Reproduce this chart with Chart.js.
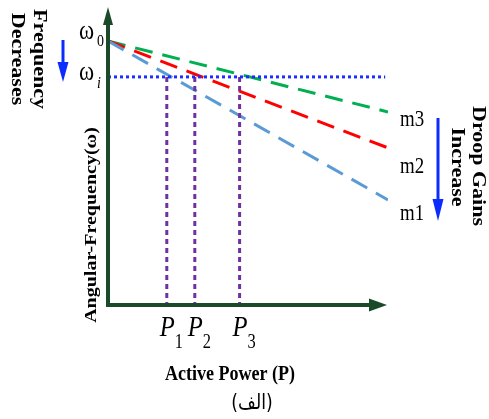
<!doctype html>
<html lang="en">
  <head>
    <meta charset="UTF-8" />
    <title>Droop Characteristic</title>
    <script src="https://cdn.jsdelivr.net/npm/chart.js"></script>
    <style>
      body,
      html {
        margin: 0;
        padding: 0;
        background: #ffffff;
      }
      #droopChart {
        display: block;
      }
    </style>
  </head>
  <body>
    <canvas id="droopChart" width="489" height="419"></canvas>
    <script>
      // Diagram values (normalised units)
      const powerRange = [0, 1];
      const freqRange = [0, 1];
      const omega0 = 0.889;
      const omegaI = 0.768;
      const omegaLineEnd = 0.99;
      const droopNames = ["m1", "m2", "m3"];
      const droopEndValues = [0.354, 0.529, 0.65]; // omega at P = 1
      const droopColors = ["#5b9bd5", "#ff0000", "#00b050"];
      const pLabels = ["1", "2", "3"];
      const pValues = [0.21, 0.31, 0.47];

      const axisColor = "#1b4a2b";
      const squeeze = 0.82; // the original artwork is a bit narrow

      function drawText(ctx, text, x, y, font, align, base, angle) {
        ctx.save();
        ctx.translate(x, y);
        ctx.scale(squeeze, 1);
        ctx.rotate(angle || 0);
        ctx.font = font;
        ctx.textAlign = align;
        ctx.textBaseline = base;
        ctx.fillStyle = "#000000";
        ctx.fillText(text, 0, 0);
        ctx.restore();
      }

      function arrow(ctx, x1, y1, x2, y2, color, width, headLen, headHalf) {
        const ang = Math.atan2(y2 - y1, x2 - x1);
        const bx = x2 - Math.cos(ang) * headLen;
        const by = y2 - Math.sin(ang) * headLen;
        ctx.save();
        ctx.strokeStyle = color;
        ctx.fillStyle = color;
        ctx.lineWidth = width;
        ctx.beginPath();
        ctx.moveTo(x1, y1);
        ctx.lineTo(bx + Math.cos(ang) * 2, by + Math.sin(ang) * 2);
        ctx.stroke();
        ctx.beginPath();
        ctx.moveTo(x2, y2);
        ctx.lineTo(bx - Math.sin(ang) * headHalf, by + Math.cos(ang) * headHalf);
        ctx.lineTo(bx + Math.sin(ang) * headHalf, by - Math.cos(ang) * headHalf);
        ctx.closePath();
        ctx.fill();
        ctx.restore();
      }

      // axes, arrows and all the labels
      const diagramPlugin = {
        id: "diagram",
        afterDatasetsDraw(chart) {
          const ctx = chart.ctx;
          const xs = chart.scales.x;
          const ys = chart.scales.y;
          const x0 = xs.getPixelForValue(powerRange[0]);
          const y0 = ys.getPixelForValue(freqRange[0]);

          // axes
          arrow(ctx, x0, y0 + 2, x0, 7, axisColor, 4, 18, 5);
          arrow(ctx, x0 - 2, y0, 387, y0, axisColor, 4, 18, 6.5);

          // omega labels
          const yw0 = ys.getPixelForValue(omega0);
          const ywi = ys.getPixelForValue(omegaI);
          drawText(ctx, "\u03c9", 79, yw0 - 2, "28px 'Liberation Serif'", "left", "alphabetic");
          drawText(ctx, "0", 97, yw0 + 5, "17px 'Liberation Serif'", "left", "alphabetic");
          drawText(ctx, "\u03c9", 79, ywi + 3, "28px 'Liberation Serif'", "left", "alphabetic");
          drawText(ctx, "i", 97, ywi + 11, "italic 17px 'Liberation Serif'", "left", "alphabetic");

          // P labels
          pValues.forEach((p, i) => {
            const px = xs.getPixelForValue(p);
            drawText(ctx, "P", px - 7, 336, "italic 30px 'Liberation Serif'", "left", "alphabetic");
            drawText(ctx, pLabels[i], px + 8, 348, "20px 'Liberation Serif'", "left", "alphabetic");
          });

          // droop names
          droopNames.forEach((name, i) => {
            const ly = ys.getPixelForValue(droopEndValues[i]);
            drawText(ctx, name, 400, ly + [20, 25, 14][i], "23px 'Liberation Serif'", "left", "alphabetic");
          });

          // axis titles
          drawText(ctx, "Active Power (P)", 230, 380, "bold 22px 'Liberation Serif'", "center", "alphabetic");
          drawText(ctx, "(\u0627\u0644\u0641)", 252, 404, "21px 'DejaVu Sans'", "center", "middle");
          drawText(ctx, "Angular-Frequency(\u03c9)", 96, 225, "bold 20px 'Liberation Serif'", "center", "alphabetic", -Math.PI / 2);

          // side notes
          drawText(ctx, "Frequency", 33.5, 59, "bold 22px 'Liberation Serif'", "center", "alphabetic", Math.PI / 2);
          drawText(ctx, "Decreases", 12, 59, "bold 22px 'Liberation Serif'", "center", "alphabetic", Math.PI / 2);
          drawText(ctx, "Droop Gains", 473, 166, "bold 22px 'Liberation Serif'", "center", "alphabetic", Math.PI / 2);
          drawText(ctx, "Increase", 452, 167, "bold 22px 'Liberation Serif'", "center", "alphabetic", Math.PI / 2);

          arrow(ctx, 63, 40, 63, 82, "#0a2cff", 3, 20, 5.5);
          arrow(ctx, 438, 118, 438, 221, "#0a2cff", 3, 22, 5.5);
        },
      };

      const datasets = [];
      // omega_i reference line
      datasets.push({
        data: [
          { x: powerRange[0], y: omegaI },
          { x: omegaLineEnd, y: omegaI },
        ],
        borderColor: "#1a2fff",
        borderWidth: 3,
        borderDash: [3, 3],
      });
      // power projections
      pValues.forEach((p) => {
        datasets.push({
          data: [
            { x: p, y: omegaI },
            { x: p, y: freqRange[0] },
          ],
          borderColor: "#7030a0",
          borderWidth: 3,
          borderDash: [5, 4],
        });
      });
      // droop lines
      droopNames.forEach((name, i) => {
        datasets.push({
          label: name,
          data: [
            { x: powerRange[0], y: omega0 },
            { x: powerRange[1], y: droopEndValues[i] },
          ],
          borderColor: droopColors[i],
          borderWidth: 3,
          borderDash: [18, 10],
        });
      });

      new Chart(document.getElementById("droopChart"), {
        type: "scatter",
        data: {
          datasets: datasets.map((d) => ({
            ...d,
            showLine: true,
            pointRadius: 0,
            fill: false,
            borderCapStyle: "butt",
          })),
        },
        options: {
          responsive: false,
          animation: false,
          layout: { padding: { left: 108, right: 101, top: 8, bottom: 114 } },
          scales: {
            x: { type: "linear", min: powerRange[0], max: powerRange[1], display: false },
            y: { type: "linear", min: freqRange[0], max: freqRange[1], display: false },
          },
          plugins: {
            legend: { display: false },
            tooltip: { enabled: false },
          },
        },
        plugins: [diagramPlugin],
      });
    </script>
  </body>
</html>
